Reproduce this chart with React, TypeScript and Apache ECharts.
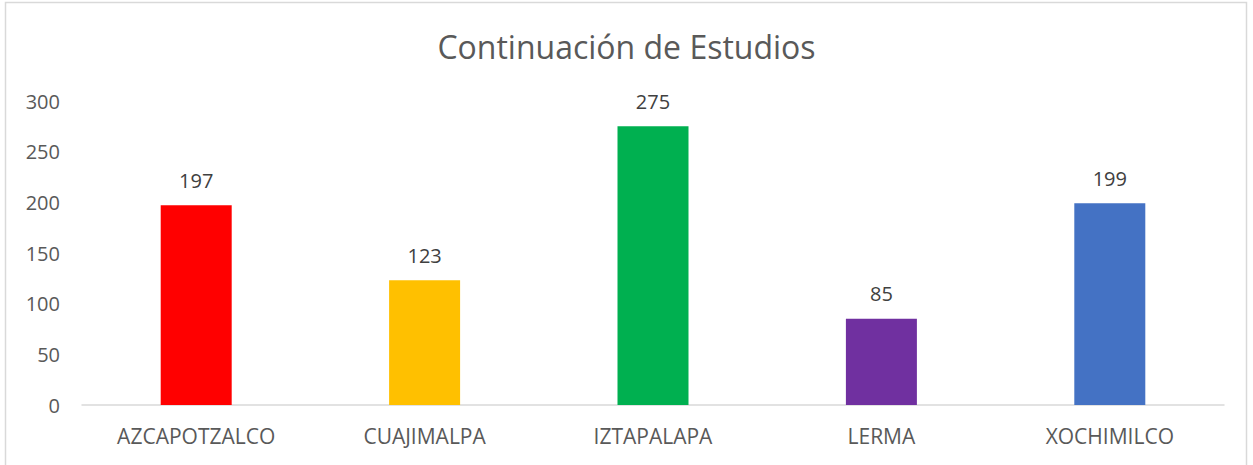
import React, { useEffect, useRef } from "react";
import * as echarts from "echarts";

const categories = ["AZCAPOTZALCO", "CUAJIMALPA", "IZTAPALAPA", "LERMA", "XOCHIMILCO"];
const values = [197, 123, 275, 85, 199];
const barColors = ["#FF0000", "#FFC000", "#00B050", "#7030A0", "#4472C4"];
const yTicks = [0, 50, 100, 150, 200, 250, 300];

export default function App() {
  const ref = useRef<HTMLDivElement>(null);
  useEffect(() => {
    const chart = echarts.init(ref.current!, null, { renderer: "svg" });
    const font = "'Open Sans', 'Noto Sans', sans-serif";
    chart.setOption({
      animation: false,
      backgroundColor: "#ffffff",
      textStyle: { fontFamily: font },
      title: {
        text: "Continuación de Estudios",
        left: "center",
        top: 25,
        textStyle: { fontSize: 32, fontWeight: "normal", color: "#595959", fontFamily: font },
      },
      graphic: [
        {
          type: "rect",
          shape: { x: 5.5, y: 2.5, width: 1241, height: 470 },
          style: { fill: "none", stroke: "#d9d9d9", lineWidth: 1.5 },
          silent: true,
        },
      ],
      grid: { left: 82, right: 29, top: 101, bottom: 60 },
      xAxis: {
        type: "category",
        data: categories,
        axisLine: { lineStyle: { color: "#d9d9d9", width: 1.5 } },
        axisTick: { show: false },
        axisLabel: { color: "#595959", fontSize: 21, margin: 20, fontFamily: font },
      },
      yAxis: {
        type: "value",
        min: yTicks[0],
        max: yTicks[yTicks.length - 1],
        interval: 50,
        splitLine: { show: false },
        axisLine: { show: false },
        axisTick: { show: false },
        axisLabel: { color: "#595959", fontSize: 20, margin: 22, fontFamily: font },
      },
      series: [
        {
          type: "bar",
          barWidth: 71,
          data: values.map((v, i) => ({ value: v, itemStyle: { color: barColors[i] } })),
          label: {
            show: true,
            position: "top",
            distance: 15,
            color: "#404040",
            fontSize: 20,
            fontFamily: font,
          },
        },
      ],
    });
    return () => chart.dispose();
  }, []);
  return (
    <div
      ref={ref}
      style={{ position: "fixed", left: 0, top: 0, width: 1253, height: 465 }}
    />
  );
}
